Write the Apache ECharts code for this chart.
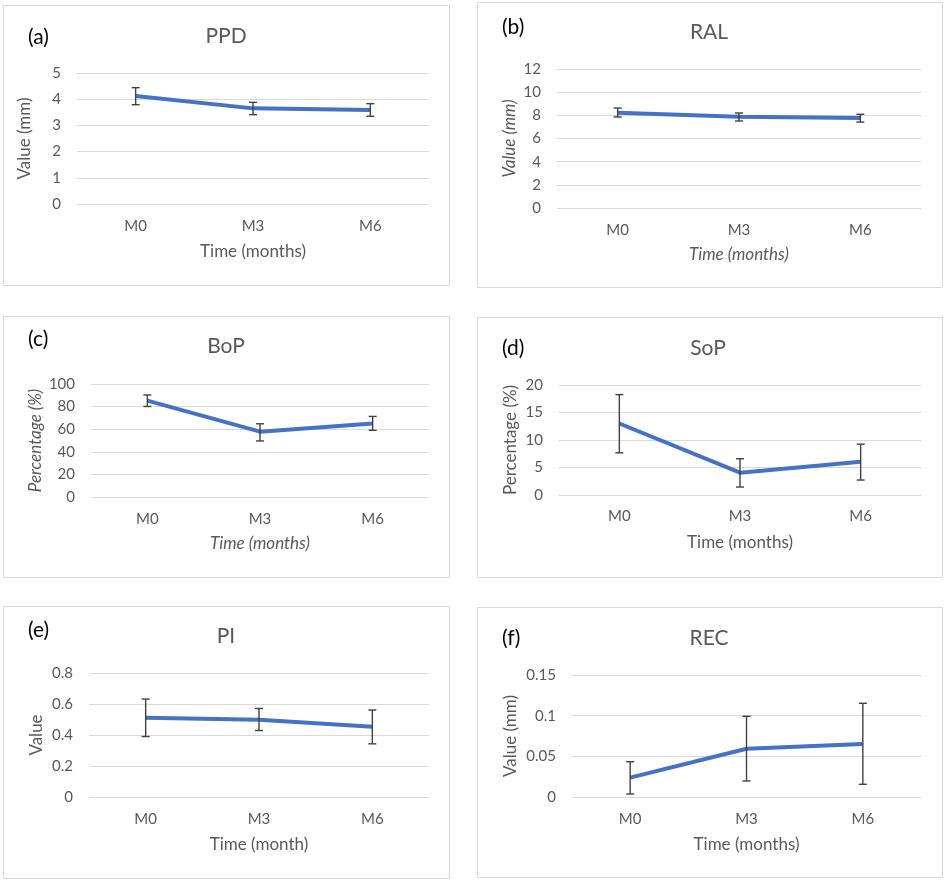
<!DOCTYPE html>
<html>
<head>
<meta charset="utf-8">
<script src="https://cdn.jsdelivr.net/npm/echarts@6/dist/echarts.min.js"></script>
<style>
html,body{margin:0;padding:0;background:#fff;}
#chart{width:944px;height:881px;}
</style>
</head>
<body>
<div id="chart"></div>
<script>
// ---- data ----
const categories = ['M0', 'M3', 'M6'];
const panelLabels = ['(a)', '(b)', '(c)', '(d)', '(e)', '(f)'];
const panelTitles = ['PPD', 'RAL', 'BoP', 'SoP', 'PI', 'REC'];
const yAxisNames = ['Value (mm)', 'Value (mm)', 'Percentage (%)', 'Percentage (%)', 'Value', 'Value (mm)'];
const xAxisNames = ['Time (months)', 'Time (months)', 'Time (months)', 'Time (months)', 'Time (month)', 'Time (months)'];
const yMax = [5, 12, 100, 20, 0.8, 0.15];
const yStep = [1, 2, 20, 5, 0.2, 0.05];

const ppdMean = [4.12, 3.65, 3.59];
const ppdLow  = [3.79, 3.41, 3.35];
const ppdHigh = [4.44, 3.88, 3.83];

const ralMean = [8.23, 7.88, 7.77];
const ralLow  = [7.86, 7.51, 7.42];
const ralHigh = [8.63, 8.20, 8.09];

const bopMean = [85.3, 57.8, 65.1];
const bopLow  = [80.1, 49.6, 59.0];
const bopHigh = [90.3, 64.8, 71.3];

const sopMean = [13.0, 4.05, 6.04];
const sopLow  = [7.67, 1.45, 2.72];
const sopHigh = [18.25, 6.59, 9.24];

const piMean = [0.511, 0.498, 0.453];
const piLow  = [0.390, 0.429, 0.343];
const piHigh = [0.632, 0.571, 0.561];

const recMean = [0.0238, 0.0594, 0.0652];
const recLow  = [0.0037, 0.0197, 0.0156];
const recHigh = [0.0434, 0.0992, 0.1152];

const means = [ppdMean, ralMean, bopMean, sopMean, piMean, recMean];
const lows  = [ppdLow, ralLow, bopLow, sopLow, piLow, recLow];
const highs = [ppdHigh, ralHigh, bopHigh, sopHigh, piHigh, recHigh];

// ---- layout (pixels) ----
const FONT = 'Lato, "Open Sans", sans-serif';
const TXT = '#595959';
const TICK = 15, NAME = 17;
const grids = [
  {l: 77,  r: 429, t: 73,  b: 204},
  {l: 557, r: 921, t: 69,  b: 208},
  {l: 91,  r: 429, t: 384, b: 497},
  {l: 559, r: 921, t: 385, b: 495},
  {l: 89,  r: 429, t: 673, b: 797},
  {l: 572, r: 921, t: 675, b: 797}
];
const boxes = [
  [3, 5, 449, 285], [477, 2, 942, 287],
  [3, 316, 449, 577], [477, 317, 942, 577],
  [3, 606, 449, 878], [477, 607, 942, 877]
];
const titlePos = [[226, 36], [709, 32], [226, 346], [708, 348], [226, 636], [709, 638]];
const labelPos = [[28, 37], [502, 27], [28, 339], [502, 348], [28, 630], [502, 638]];
const italicY = [false, true, true, false, false, false];
const italicX = [false, true, true, false, false, false];
const xLabelCenter = [226, 230, 519, 516, 819, 819];
const xNameCenter = [252, 255, 544, 543, 845, 845];
const yNameCenter = [25, 510, 36, 511, 37, 511];

const chart = echarts.init(document.getElementById('chart'), null, {renderer: 'canvas'});

const option = {
  backgroundColor: '#fff',
  animation: false,
  grid: [], xAxis: [], yAxis: [], series: [], graphic: []
};

for (let i = 0; i < 6; i++) {
  const g = grids[i];
  option.grid.push({left: g.l, top: g.t, width: g.r - g.l, height: g.b - g.t, containLabel: false});
  option.xAxis.push({
    type: 'category', gridIndex: i, data: categories, boundaryGap: true,
    axisLine: {show: false}, axisTick: {show: false},
    axisLabel: {color: TXT, fontSize: TICK, fontFamily: FONT, margin: xLabelCenter[i] - g.b - TICK / 2},
    name: xAxisNames[i], nameLocation: 'middle', nameGap: xNameCenter[i] - g.b - NAME / 2,
    nameTextStyle: {color: TXT, fontSize: NAME, fontFamily: FONT, fontStyle: italicX[i] ? 'italic' : 'normal'}
  });
  option.yAxis.push({
    type: 'value', gridIndex: i, min: 0, max: yMax[i], interval: yStep[i],
    axisLine: {show: false}, axisTick: {show: false},
    splitLine: {show: true, lineStyle: {color: '#d9d9d9', width: 1}},
    axisLabel: {color: TXT, fontSize: TICK, fontFamily: FONT, margin: 16},
    name: yAxisNames[i], nameLocation: 'middle', nameGap: g.l - yNameCenter[i] - NAME / 2,
    nameTextStyle: {color: TXT, fontSize: NAME, fontFamily: FONT, fontStyle: italicY[i] ? 'italic' : 'normal'}
  });
  option.series.push({
    type: 'line', xAxisIndex: i, yAxisIndex: i, data: means[i],
    symbol: 'none', smooth: false, z: 2,
    lineStyle: {color: '#4472C4', width: 4}
  });
  const errData = categories.map((c, k) => [k, lows[i][k], highs[i][k]]);
  option.series.push({
    type: 'custom', xAxisIndex: i, yAxisIndex: i, data: errData, z: 3,
    renderItem: function (params, api) {
      const x = api.value(0);
      const lo = api.coord([x, api.value(1)]);
      const hi = api.coord([x, api.value(2)]);
      const w = 4;
      const st = {stroke: '#404040', lineWidth: 1.4};
      return {type: 'group', children: [
        {type: 'line', shape: {x1: lo[0], y1: lo[1], x2: hi[0], y2: hi[1]}, style: st},
        {type: 'line', shape: {x1: hi[0] - w, y1: hi[1], x2: hi[0] + w, y2: hi[1]}, style: st},
        {type: 'line', shape: {x1: lo[0] - w, y1: lo[1], x2: lo[0] + w, y2: lo[1]}, style: st}
      ]};
    },
    encode: {x: 0, y: [1, 2]}
  });
  const b = boxes[i];
  option.graphic.push({
    type: 'rect', silent: true, z: -1,
    shape: {x: b[0] + 0.5, y: b[1] + 0.5, width: b[2] - b[0], height: b[3] - b[1]},
    style: {fill: '#fff', stroke: '#d9d9d9', lineWidth: 1}
  });
  option.graphic.push({
    type: 'text', silent: true, z: 10,
    x: titlePos[i][0], y: titlePos[i][1],
    style: {text: panelTitles[i], fill: TXT, fontSize: 21, fontFamily: FONT, align: 'center', verticalAlign: 'middle'}
  });
  option.graphic.push({
    type: 'text', silent: true, z: 10,
    x: labelPos[i][0], y: labelPos[i][1],
    style: {text: panelLabels[i], fill: '#000', fontSize: 21, fontFamily: FONT, align: 'left', verticalAlign: 'middle'}
  });
}
chart.setOption(option);
</script>
</body>
</html>
